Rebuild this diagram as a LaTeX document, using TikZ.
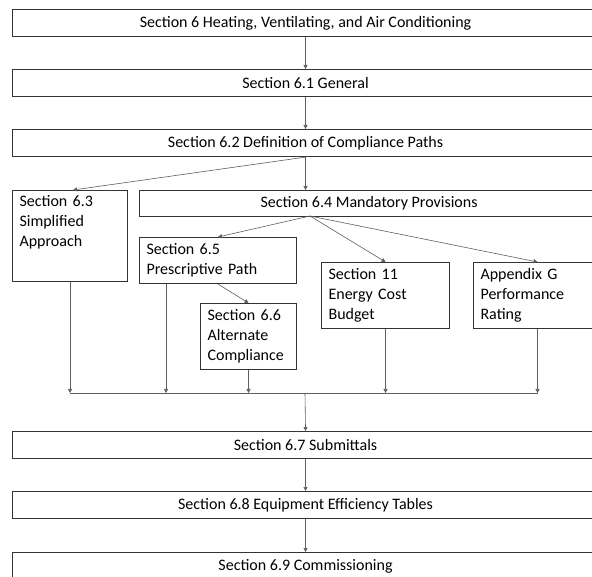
\documentclass[tikz,border=0pt]{standalone}
\usepackage{fontspec}
\setmainfont{Carlito}
\usetikzlibrary{arrows.meta}
\definecolor{HvacEdge}{HTML}{333333}
\definecolor{HvacLine}{HTML}{5E5E5E}

\tikzset{
  widebox/.style={draw=HvacEdge,line width=1.1pt,anchor=north west,inner sep=0pt,
    minimum width=586pt,minimum height=27pt},
  tallbox/.style={draw=HvacEdge,line width=1.1pt,anchor=north west,align=left,
    inner xsep=7pt,inner ysep=5pt},
  link/.style={draw=HvacLine,line width=.6pt,-{Triangle[length=4pt,width=4pt]}},
  busline/.style={draw=HvacLine,line width=.6pt}
}

\begin{document}
\begin{tikzpicture}[x=1pt,y=-1pt,font=\fontsize{16}{20}\selectfont]
  \useasboundingbox (0,0) rectangle (592,577);

  % main column
  \node[widebox] (s6) at (12,9) {Section 6 Heating, Ventilating, and Air Conditioning};
  \node[widebox] (s61) at (12,69) {Section 6.1 General};
  \node[widebox] (s62) at (12,129) {Section 6.2 Definition of Compliance Paths};

  % compliance paths
  \node[tallbox,text width=101pt,text depth=70pt] (s63) at (12,190)
    {Section 6.3\\Simplified\\Approach};
  \node[widebox,minimum width=459pt,minimum height=26pt] (s64) at (139,190)
    {Section 6.4 Mandatory Provisions};
  \node[tallbox,text width=143pt,minimum height=46pt] (s65) at (139,237)
    {Section 6.5\\Prescriptive Path};
  \node[tallbox,text width=82pt,minimum height=66pt] (s66) at (200,303)
    {Section 6.6\\Alternate\\Compliance};
  \node[tallbox,text width=114pt,minimum height=66pt] (s11) at (321,262)
    {Section 11\\Energy Cost\\Budget};
  \node[tallbox,text width=114pt,minimum height=66pt] (apG) at (473,262)
    {Appendix G\\Performance\\Rating};

  % closing sections
  \node[widebox] (s67) at (12,431) {Section 6.7 Submittals};
  \node[widebox] (s68) at (12,491) {Section 6.8 Equipment Efficiency Tables};
  \node[widebox] (s69) at (12,552) {Section 6.9 Commissioning};

  \coordinate (fork) at (310,216);
  \coordinate (bus) at (305,393);
  \coordinate (s65out) at ([xshift=27pt]s65.south west);

  \draw[link] (s6) -- (s61);
  \draw[link] (s61) -- (s62);
  \draw[link] (s62.south) -- ([xshift=3pt]s63.north);
  \draw[link] (s62.south) -- (s62.south |- s64.north);
  \draw[link] (fork) -- (s65.north);
  \draw[link] (fork) -- (s11.north);
  \draw[link] (fork) -- (apG.north);
  \draw[link] (s65.south) -- (s66.north);

  % everything joins on the bus
  \draw[link] (s63.south) -- (s63.south |- bus);
  \draw[link] (s65out) -- (s65out |- bus);
  \draw[link] (s66.south) -- (s66.south |- bus);
  \draw[link] (s11.south) -- (s11.south |- bus);
  \draw[link] (apG.south) -- (apG.south |- bus);
  \draw[busline] (s63.south |- bus) -- (apG.south |- bus);
  \draw[link] (bus) -- (s67.north);
  \draw[link] (s67) -- (s68);
  \draw[link] (s68) -- (s69);
\end{tikzpicture}
\end{document}
